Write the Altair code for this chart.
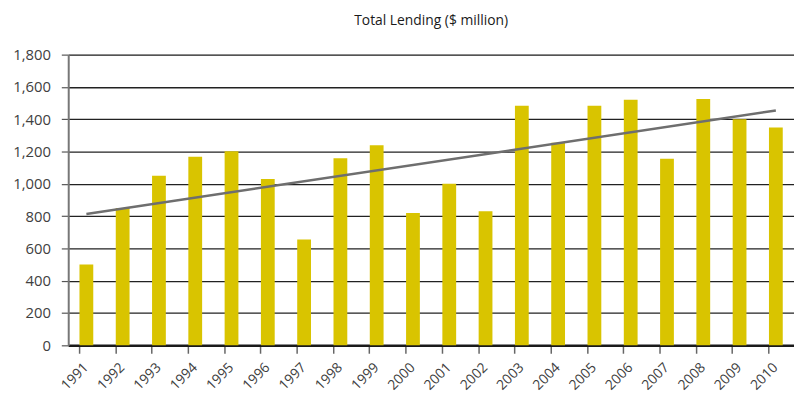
import altair as alt
import pandas as pd

years = list(range(1991, 2011))
lending = [500, 850, 1050, 1167, 1202, 1030, 655, 1159, 1239, 820,
           1000, 830, 1483, 1255, 1483, 1520, 1155, 1526, 1400, 1349]
y_ticks = [0, 200, 400, 600, 800, 1000, 1200, 1400, 1600, 1800]

df = pd.DataFrame({"year": years, "value": lending})

FONT = "Open Sans"
TXT = "#404040"

x_enc = alt.X(
    "year:O",
    scale=alt.Scale(domain=years, paddingInner=0.62, paddingOuter=0.31),
    axis=alt.Axis(
        title=None, labelAngle=-45, labelAlign="right", labelBaseline="middle",
        labelFontSize=14, labelFont=FONT, labelColor=TXT, labelPadding=12,
        domainColor="#1a1a1a", domainWidth=2.5, tickColor="#666666",
        tickWidth=1.5, tickSize=8, bandPosition=0, grid=False,
    ),
)

y_enc = alt.Y(
    "value:Q",
    scale=alt.Scale(domain=[0, 1800], nice=False),
    axis=alt.Axis(
        title=None, values=y_ticks, format=",.0f", labelFontSize=15, labelFont=FONT,
        labelColor=TXT, labelPadding=11, domainColor="#777777", domainWidth=2,
        tickColor="#555555", tickSize=7, tickWidth=1.2, grid=True,
        gridColor="#222222", gridWidth=1.3,
    ),
)

bars = alt.Chart(df).mark_bar(color="#D9C400").encode(x=x_enc, y=y_enc)

trend = (
    alt.Chart(df)
    .transform_regression("year", "value")
    .mark_line(color="#6e6e6e", strokeWidth=2.5)
    .encode(x=x_enc, y=y_enc)
)

chart = (
    alt.layer(bars, trend)
    .properties(
        width=734, height=294,
        title=alt.TitleParams(
            "Total Lending ($ million)", font=FONT, fontSize=14,
            fontWeight="normal", color="#1a1a1a", anchor="middle", offset=20,
        ),
        autosize=alt.AutoSizeParams(type="none"),
        padding={"left": 69, "top": 53, "right": 0, "bottom": 49},
    )
    .configure_view(stroke=None)
    .configure(background="white")
)

chart.save("out.html", embed_options={"renderer": "svg", "actions": False})
